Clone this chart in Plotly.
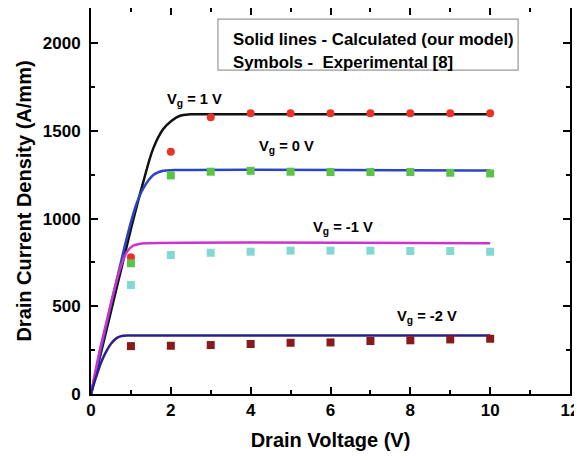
import plotly.graph_objects as go

# Experimental data (symbols)
vd_exp = [1, 2, 3, 4, 5, 6, 7, 8, 9, 10]
exp_vg1 = [780, 1380, 1577, 1600, 1600, 1600, 1600, 1600, 1600, 1600]
exp_vg0 = [745, 1246, 1267, 1272, 1267, 1265, 1265, 1265, 1261, 1257]
exp_vgm1 = [621, 792, 805, 811, 817, 817, 817, 815, 815, 811]
exp_vgm2 = [273, 275, 279, 285, 292, 294, 302, 306, 311, 315]

# Calculated model curves
calc_vg1_x = [0, 0.5, 1.0, 1.3, 1.56, 1.81, 2.02, 2.23, 2.48, 3.0, 10]
calc_vg1_y = [0, 470, 940, 1200, 1400, 1510, 1558, 1586, 1594, 1594, 1594]
calc_vg0_x = [0, 0.5, 0.8, 1.0, 1.15, 1.31, 1.56, 1.81, 2.1, 10]
calc_vg0_y = [0, 510, 800, 980, 1090, 1172, 1248, 1272, 1276, 1274]
calc_vgm1_x = [0, 0.2, 0.43, 0.6, 0.76, 0.9, 1.05, 1.2, 1.4, 10]
calc_vgm1_y = [0, 230, 450, 610, 735, 810, 845, 855, 859, 859]
calc_vgm2_x = [0, 0.09, 0.26, 0.4, 0.51, 0.65, 0.8, 1.0, 10]
calc_vgm2_y = [0, 70, 184, 250, 289, 320, 332, 334, 334]

legend_lines = ["Solid lines - Calculated (our model)", "Symbols -  Experimental [8]"]
vg_labels = ["V<sub>g</sub> = 1 V", "V<sub>g</sub> = 0 V", "V<sub>g</sub> = -1 V", "V<sub>g</sub> = -2 V"]

FONT = "Liberation Sans"

fig = go.Figure()

lines = [
    (calc_vg1_x, calc_vg1_y, "#111111"),
    (calc_vg0_x, calc_vg0_y, "#2a44c4"),
    (calc_vgm1_x, calc_vgm1_y, "#cc33cc"),
    (calc_vgm2_x, calc_vgm2_y, "#2b1f8f"),
]
for xs, ys, c in lines:
    fig.add_trace(go.Scatter(x=xs, y=ys, mode="lines",
                             line=dict(color=c, width=2.5, shape="spline", smoothing=1.0),
                             showlegend=False, hoverinfo="skip"))

symbols = [
    (exp_vg1, "#e8322a", "circle"),
    (exp_vg0, "#5cc24a", "square"),
    (exp_vgm1, "#84d8d2", "square"),
    (exp_vgm2, "#8a1a1a", "square"),
]
for ys, c, s in symbols:
    fig.add_trace(go.Scatter(x=vd_exp, y=ys, mode="markers",
                             marker=dict(color=c, symbol=s, size=8, line=dict(width=0)),
                             showlegend=False))

# legend box
fig.add_shape(type="rect", xref="x", yref="y", x0=3.18, x1=10.7, y0=1846, y1=2137,
              line=dict(color="#999999", width=1.2), fillcolor="white", layer="below")
fig.add_annotation(x=3.5, y=2023, xref="x", yref="y", text="<b>" + legend_lines[0] + "</b>",
                   showarrow=False, xanchor="left", yanchor="middle",
                   font=dict(family=FONT, size=16.8, color="black"))
fig.add_annotation(x=3.5, y=1892, xref="x", yref="y", text="<b>" + legend_lines[1] + "</b>",
                   showarrow=False, xanchor="left", yanchor="middle",
                   font=dict(family=FONT, size=16.8, color="black"))

label_pos = [(1.85, 1675), (4.16, 1407), (5.51, 946), (7.62, 439)]
for (lx, ly), t in zip(label_pos, vg_labels):
    fig.add_annotation(x=lx, y=ly, xref="x", yref="y", text="<b>" + t + "</b>",
                       showarrow=False, xanchor="left", yanchor="middle",
                       font=dict(family=FONT, size=14.7, color="black"))

axis_common = dict(showgrid=False, zeroline=False, showline=True, linecolor="black", linewidth=2,
                   mirror="ticks", ticks="inside", ticklen=7, tickwidth=2, tickcolor="black",
                   automargin=False,
                   tickfont=dict(family=FONT, size=17, color="black", weight="bold"))

fig.update_xaxes(range=[0, 12], tickvals=[0, 2, 4, 6, 8, 10, 12],
                 minor=dict(dtick=1, ticks="inside", ticklen=4, tickwidth=2, tickcolor="black"),
                 title=dict(text="<b>Drain Voltage (V)</b>", font=dict(family=FONT, size=20, color="black"),
                            standoff=14),
                 **axis_common)
fig.update_yaxes(range=[0, 2200], tickvals=[0, 500, 1000, 1500, 2000],
                 minor=dict(dtick=250, ticks="inside", ticklen=4, tickwidth=2, tickcolor="black"),
                 ticklabelstandoff=5,
                 title=dict(text="<b>Drain Current Density (A/mm)</b>", font=dict(family=FONT, size=20, color="black"),
                            standoff=6),
                 **axis_common)

# page body has an 8px default margin, so the figure is sized to fit the 582x460 window
fig.update_layout(width=574, height=444, margin=dict(l=83, r=12, t=0, b=58),
                  plot_bgcolor="white", paper_bgcolor="white",
                  font=dict(family=FONT, color="black"))

fig.write_html("out.html")
